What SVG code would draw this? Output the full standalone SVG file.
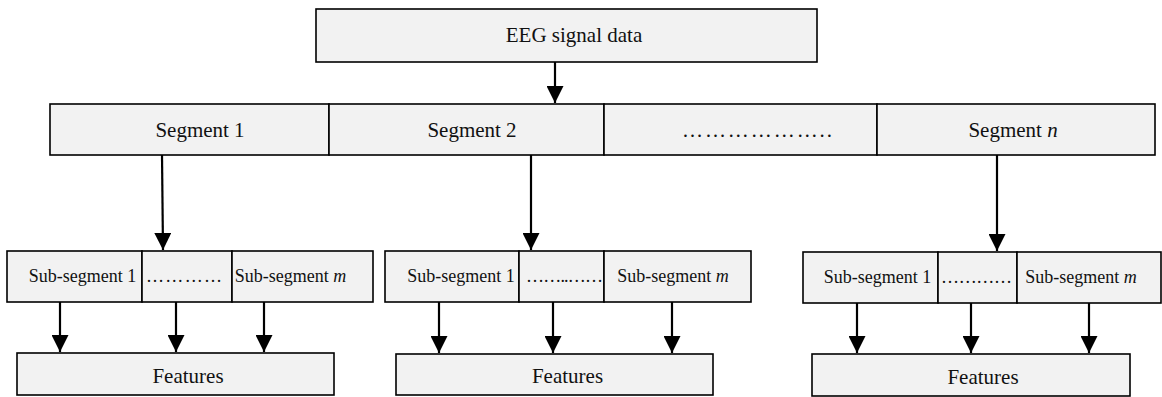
<svg xmlns="http://www.w3.org/2000/svg" width="1162" height="397" viewBox="0 0 1162 397">
  <style>
    .box { fill: #f2f2f2; stroke: #000; stroke-width: 1.6; }
    .lbl { font-family: "Liberation Serif", "Times New Roman", serif; font-size: 21px; fill: #111; text-anchor: middle; }
    .sub { font-family: "Liberation Serif", "Times New Roman", serif; font-size: 18px; fill: #111; text-anchor: middle; }
    .arrow { stroke: #000; stroke-width: 2.2; fill: none; marker-end: url(#head); }
  </style>
  <defs>
    <marker id="head" markerUnits="userSpaceOnUse" markerWidth="17" markerHeight="17" refX="17" refY="8.5" orient="auto">
      <path d="M0,0 L17,8.5 L0,17 Z" fill="#000"/>
    </marker>
  </defs>
  <rect width="1162" height="397" fill="#fff"/>

  <!-- Input -->
  <g id="eeg">
    <rect class="box" x="316" y="9" width="501" height="53"/>
    <text class="lbl" x="574" y="42">EEG signal data</text>
  </g>

  <!-- Segment row -->
  <g id="segment-1">
    <rect class="box" x="50" y="104" width="279" height="51"/>
    <text class="lbl" x="200" y="137">Segment 1</text>
  </g>
  <g id="segment-2">
    <rect class="box" x="329" y="104" width="275" height="51"/>
    <text class="lbl" x="472" y="137">Segment 2</text>
  </g>
  <g id="segment-dots">
    <rect class="box" x="604" y="104" width="273" height="51"/>
    <text class="lbl" x="757" y="137" textLength="150" lengthAdjust="spacing">………………..</text>
  </g>
  <g id="segment-n">
    <rect class="box" x="877" y="104" width="278" height="51"/>
    <text class="lbl" x="1013" y="137">Segment <tspan font-style="italic">n</tspan></text>
  </g>

  <!-- Sub-segments of segment 1 -->
  <g id="sub-1">
    <rect class="box" x="7" y="251" width="135" height="51"/>
    <rect class="box" x="142" y="251" width="90" height="51"/>
    <rect class="box" x="232" y="251" width="141" height="51"/>
    <text class="sub" x="82.5" y="282">Sub-segment 1</text>
    <text class="sub" x="184" y="282" textLength="76" lengthAdjust="spacing">…………</text>
    <text class="sub" x="290.5" y="282">Sub-segment <tspan font-style="italic">m</tspan></text>
  </g>
  <!-- Sub-segments of segment 2 -->
  <g id="sub-2">
    <rect class="box" x="385" y="251" width="134" height="51"/>
    <rect class="box" x="519" y="251" width="85" height="51"/>
    <rect class="box" x="604" y="251" width="147" height="51"/>
    <text class="sub" x="461" y="282">Sub-segment 1</text>
    <text class="sub" x="564.5" y="282" textLength="77" lengthAdjust="spacing">……..……</text>
    <text class="sub" x="673" y="282">Sub-segment <tspan font-style="italic">m</tspan></text>
  </g>
  <!-- Sub-segments of segment n -->
  <g id="sub-n">
    <rect class="box" x="803" y="252" width="135" height="51"/>
    <rect class="box" x="938" y="252" width="79" height="51"/>
    <rect class="box" x="1017" y="252" width="144" height="51"/>
    <text class="sub" x="877.5" y="283">Sub-segment 1</text>
    <text class="sub" x="976.5" y="283" textLength="71" lengthAdjust="spacing">…………</text>
    <text class="sub" x="1081" y="283">Sub-segment <tspan font-style="italic">m</tspan></text>
  </g>

  <!-- Feature boxes -->
  <g id="features-1">
    <rect class="box" x="17" y="353" width="317" height="42"/>
    <text class="lbl" x="188" y="383">Features</text>
  </g>
  <g id="features-2">
    <rect class="box" x="396" y="354" width="317" height="41"/>
    <text class="lbl" x="567.5" y="383">Features</text>
  </g>
  <g id="features-n">
    <rect class="box" x="812" y="354" width="318" height="42"/>
    <text class="lbl" x="983" y="384">Features</text>
  </g>

  <!-- Connectors -->
  <g id="connectors">
    <line class="arrow" x1="555" y1="62" x2="555" y2="103"/>
    <line class="arrow" x1="162" y1="155" x2="163" y2="250"/>
    <line class="arrow" x1="531" y1="155" x2="531" y2="250"/>
    <line class="arrow" x1="997" y1="155" x2="997" y2="251"/>

    <line class="arrow" x1="60" y1="302" x2="60" y2="352"/>
    <line class="arrow" x1="176" y1="302" x2="176" y2="352"/>
    <line class="arrow" x1="264" y1="302" x2="264" y2="352"/>

    <line class="arrow" x1="439" y1="302" x2="439" y2="353"/>
    <line class="arrow" x1="553" y1="302" x2="553" y2="353"/>
    <line class="arrow" x1="672" y1="302" x2="672" y2="353"/>

    <line class="arrow" x1="857" y1="303" x2="857" y2="353"/>
    <line class="arrow" x1="971" y1="303" x2="971" y2="353"/>
    <line class="arrow" x1="1089" y1="303" x2="1089" y2="353"/>
  </g>
</svg>
